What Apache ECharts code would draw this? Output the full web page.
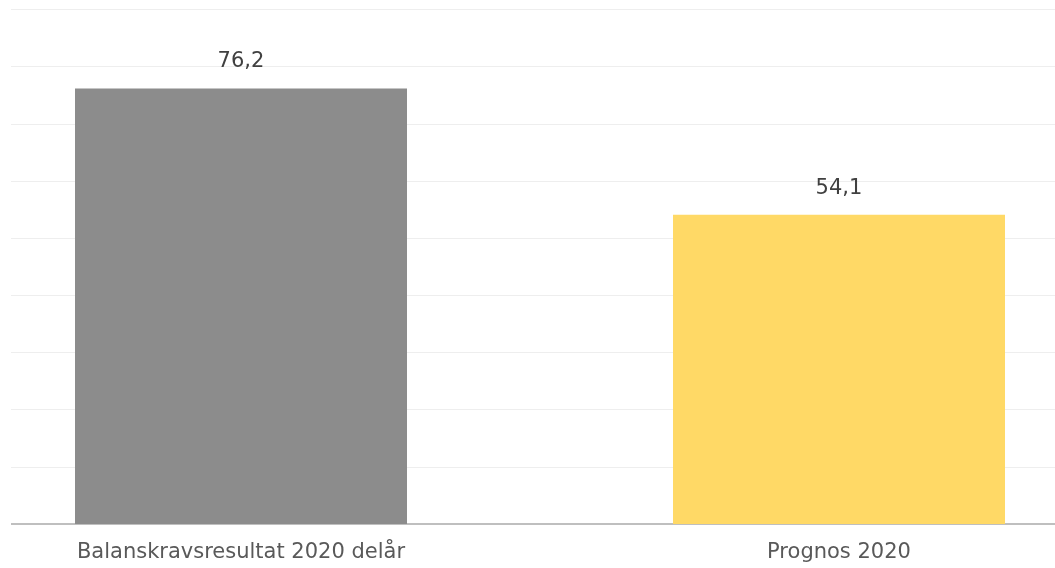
<!DOCTYPE html>
<html>
<head>
<meta charset="utf-8">
<script src="https://cdn.jsdelivr.net/npm/echarts@6/dist/echarts.min.js"></script>
<style>
html,body{margin:0;padding:0;background:#fff;}
#wrap{position:relative;width:1055px;height:568px;overflow:hidden;}
#chart{position:absolute;left:-58px;top:0;width:1196px;height:568px;}
</style>
</head>
<body>
<div id="wrap"><div id="chart"></div></div>
<script>
const categories = ['Balanskravsresultat 2020 delår', 'Prognos 2020'];
const values = [76.2, 54.1];
const barColors = ['#8c8c8c', '#ffd966'];

const chart = echarts.init(document.getElementById('chart'), null, {renderer: 'canvas'});
chart.setOption({
  animation: false,
  backgroundColor: '#ffffff',
  grid: {left: 0, right: 0, top: 9.5, bottom: 44, containLabel: false},
  xAxis: {
    type: 'category',
    data: categories,
    axisLine: {show: true, lineStyle: {color: '#bfbfbf', width: 2}},
    axisTick: {show: false},
    axisLabel: {color: '#595959', fontSize: 21, fontFamily: 'DejaVu Sans', margin: 18}
  },
  yAxis: {
    type: 'value',
    min: 0, max: 90, interval: 10,
    axisLabel: {show: false},
    axisLine: {show: false},
    axisTick: {show: false},
    splitLine: {lineStyle: {color: '#eeeeee', width: 1}}
  },
  series: [{
    type: 'bar',
    barWidth: 332,
    data: values.map((v, i) => ({value: v, itemStyle: {color: barColors[i]}})),
    label: {
      show: true, position: 'top', distance: 16,
      color: '#404040', fontSize: 21, fontFamily: 'DejaVu Sans',
      formatter: p => String(p.value).replace('.', ',')
    }
  }],
  graphic: [{
    type: 'rect', left: 0, top: 0, z: 100,
    shape: {width: 69, height: 530},
    style: {fill: '#ffffff'}
  }]
});
</script>
</body>
</html>
